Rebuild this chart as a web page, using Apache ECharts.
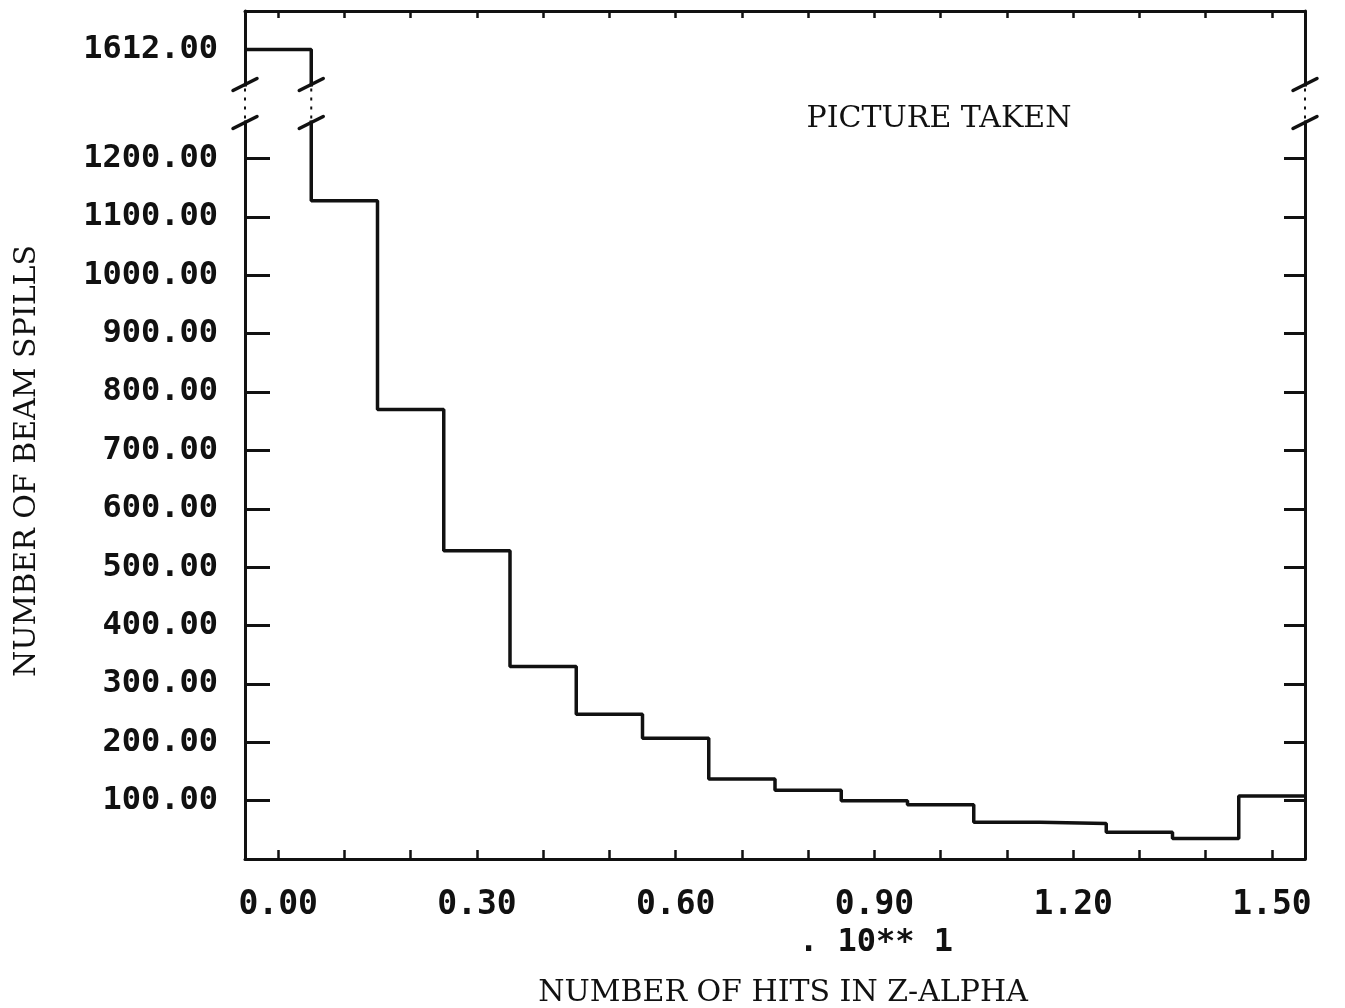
<!DOCTYPE html>
<html>
<head>
<meta charset="utf-8">
<title>Number of hits in Z-alpha</title>
<script src="https://cdn.jsdelivr.net/npm/echarts@6/dist/echarts.min.js"></script>
<style>
  html, body { margin: 0; padding: 0; background: #fff; }
  #chart { width: 1345px; height: 1008px; }
</style>
</head>
<body>
<div id="chart"></div>
<script>
// Histogram: bin centres (units of 10**1 hits) and number of beam spills per bin
const binCenters = [0.0, 0.1, 0.2, 0.3, 0.4, 0.5, 0.6, 0.7, 0.8, 0.9, 1.0, 1.1, 1.2, 1.3, 1.4, 1.5];
const counts = [1612, 1128, 770, 528, 330, 248, 207, 137, 118, 100, 93, 63, 61, 46, 35, 108];
const binWidth = 0.1;

// Axis ticks and labels
const xTickValues = [0.0, 0.1, 0.2, 0.3, 0.4, 0.5, 0.6, 0.7, 0.8, 0.9, 1.0, 1.1, 1.2, 1.3, 1.4, 1.5];
const xLabelValues = [0.0, 0.3, 0.6, 0.9, 1.2, 1.5];
const yTickValues = [100, 200, 300, 400, 500, 600, 700, 800, 900, 1000, 1100, 1200];

// Broken y axis: everything above BREAK_HIGH is shifted down by BREAK_SHIFT
const BREAK_LOW = 1262;
const BREAK_HIGH = 1327;
const BREAK_SHIFT = 225;
const Y_DISPLAY_MAX = 1453;
const X_MIN = binCenters[0] - binWidth / 2;
const X_MAX = binCenters[binCenters.length - 1] + binWidth / 2;

const toDisplay = v => (v > BREAK_LOW ? v - BREAK_SHIFT : v);
const fromDisplay = d => (d > BREAK_HIGH ? d + BREAK_SHIFT : d);

// Step outline: left edge of each bin, then the right edge of the last bin
const stepPoints = binCenters.map((c, i) => [+(c - binWidth / 2).toFixed(3), toDisplay(counts[i])]);
stepPoints.push([X_MAX, toDisplay(counts[counts.length - 1])]);

// Places where a vertical line crosses the axis break
const breakXs = [X_MIN, +(binCenters[0] + binWidth / 2).toFixed(3), X_MAX];

const plotterFont = '"DejaVu Sans Mono", monospace';
const typeFont = '"DejaVu Serif", serif';
const ink = '#111';

const yLabelValues = yTickValues.concat([toDisplay(counts[0])]);

const chart = echarts.init(document.getElementById('chart'));
chart.setOption({
  backgroundColor: '#fff',
  animation: false,
  grid: { left: 245, right: 40, top: 11, bottom: 149, containLabel: false, outerBoundsMode: 'none' },
  xAxis: [
    {
      type: 'value', position: 'bottom', min: X_MIN, max: X_MAX,
      axisLine: { show: true, onZero: false, lineStyle: { color: ink, width: 3 } },
      axisTick: { show: true, inside: true, length: 9, customValues: xTickValues, lineStyle: { color: ink, width: 2.5 } },
      axisLabel: {
        show: true, customValues: xLabelValues, margin: 30,
        formatter: v => v.toFixed(2),
        fontFamily: plotterFont, fontSize: 33, fontWeight: 'bold', color: ink
      },
      splitLine: { show: false }
    },
    {
      type: 'value', position: 'top', min: X_MIN, max: X_MAX,
      axisLine: { show: true, onZero: false, lineStyle: { color: ink, width: 3 } },
      axisTick: { show: true, inside: true, length: 7, customValues: xTickValues, lineStyle: { color: ink, width: 2.5 } },
      axisLabel: { show: false },
      splitLine: { show: false }
    }
  ],
  yAxis: [
    {
      type: 'value', position: 'left', min: 0, max: Y_DISPLAY_MAX,
      axisLine: { show: true, onZero: false, lineStyle: { color: ink, width: 3 } },
      axisTick: { show: true, inside: true, length: 25, customValues: yTickValues, lineStyle: { color: ink, width: 3 } },
      axisLabel: {
        show: true, customValues: yLabelValues, margin: 27,
        formatter: d => fromDisplay(d).toFixed(2),
        fontFamily: plotterFont, fontSize: 32, fontWeight: 'bold', color: ink
      },
      splitLine: { show: false }
    },
    {
      type: 'value', position: 'right', min: 0, max: Y_DISPLAY_MAX,
      axisLine: { show: true, onZero: false, lineStyle: { color: ink, width: 3 } },
      axisTick: { show: true, inside: true, length: 21, customValues: yTickValues, lineStyle: { color: ink, width: 3 } },
      axisLabel: { show: false },
      splitLine: { show: false }
    }
  ],
  graphic: [
    {
      type: 'text', x: 27, y: 461, rotation: Math.PI / 2,
      style: { text: 'NUMBER OF BEAM SPILLS', font: '30px ' + typeFont, fill: ink, textAlign: 'center', textVerticalAlign: 'middle' }
    },
    {
      type: 'text', x: 876, y: 943,
      style: { text: '. 10** 1', font: 'bold 32px ' + plotterFont, fill: ink, textAlign: 'center', textVerticalAlign: 'middle' }
    },
    {
      type: 'text', x: 783, y: 993,
      style: { text: 'NUMBER OF HITS IN Z-ALPHA', font: '30px ' + typeFont, fill: ink, textAlign: 'center', textVerticalAlign: 'middle' }
    },
    {
      type: 'text', x: 939, y: 119,
      style: { text: 'PICTURE TAKEN', font: '30px ' + typeFont, fill: ink, textAlign: 'center', textVerticalAlign: 'middle' }
    }
  ],
  series: [
    {
      type: 'line', xAxisIndex: 0, yAxisIndex: 0,
      step: 'end', data: stepPoints, symbol: 'none', clip: false,
      lineStyle: { color: ink, width: 3.5 }, z: 5
    },
    {
      // break markers: gap drawn dotted, with a slash at each end
      type: 'custom', xAxisIndex: 0, yAxisIndex: 0, clip: false, z: 10,
      data: breakXs.map(x => [x]),
      renderItem: (params, api) => {
        const x = api.value(0);
        const a = api.coord([x, BREAK_LOW]);
        const b = api.coord([x, BREAK_HIGH]);
        const slash = p => ({
          type: 'line',
          shape: { x1: p[0] - 12, y1: p[1] + 6, x2: p[0] + 12, y2: p[1] - 6 },
          style: { stroke: ink, lineWidth: 3.5, lineCap: 'round' }
        });
        return {
          type: 'group',
          children: [
            { type: 'line', shape: { x1: a[0], y1: a[1] - 2, x2: b[0], y2: b[1] + 2 }, style: { stroke: '#fff', lineWidth: 8 } },
            { type: 'line', shape: { x1: a[0], y1: a[1] - 4, x2: b[0], y2: b[1] + 4 }, style: { stroke: ink, lineWidth: 2, lineDash: [3, 6] } },
            slash(a),
            slash(b)
          ]
        };
      }
    }
  ]
});
</script>
</body>
</html>
